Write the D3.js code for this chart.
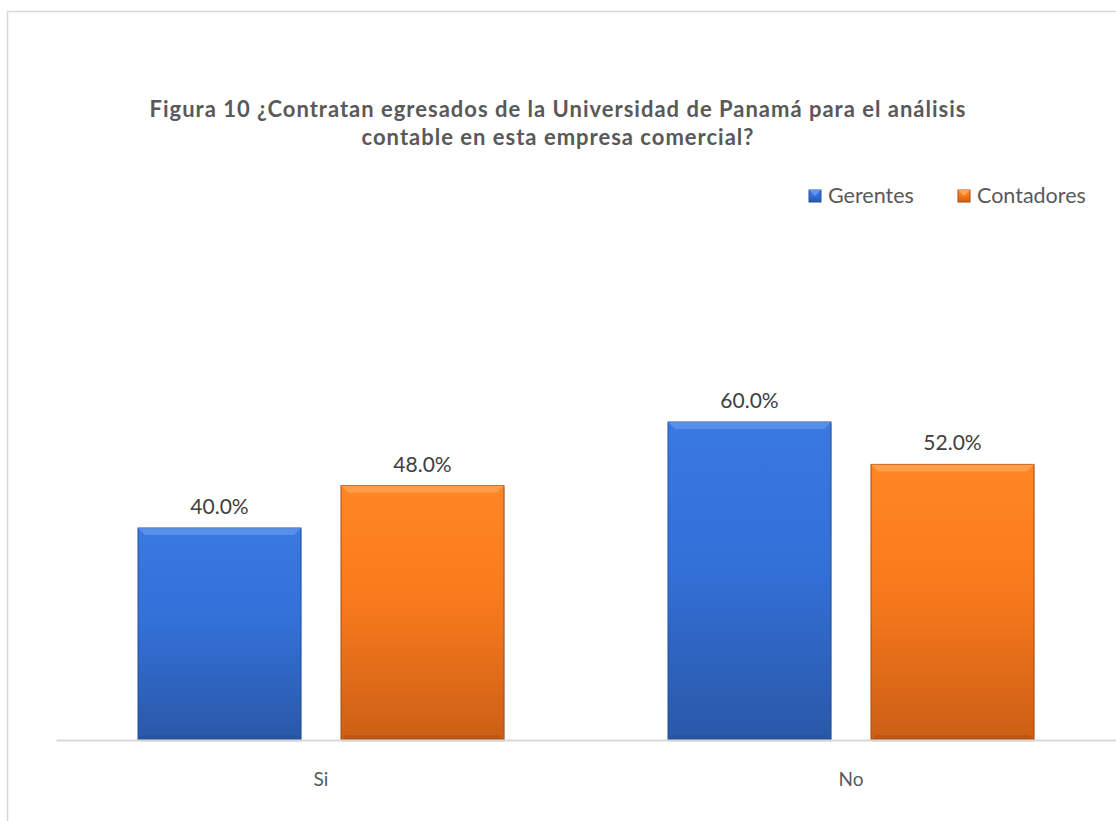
<!DOCTYPE html>
<html>
<head>
<meta charset="utf-8">
<script src="https://cdn.jsdelivr.net/npm/d3@7"></script>
<style>
  body { margin: 0; background: #fff; }
  text { font-family: Lato, "Noto Sans", sans-serif; }
</style>
</head>
<body>
<svg width="1116" height="821"></svg>
<script>
var categories = ['Si', 'No'];
var series = ['Gerentes', 'Contadores'];
var gerentes = [0.40, 0.60];
var contadores = [0.48, 0.52];
var titleLines = ['Figura 10 ¿Contratan egresados de la Universidad de Panamá para el análisis',
                  'contable en esta empresa comercial?'];

var svg = d3.select('svg');
var width = +svg.attr('width'),
    height = +svg.attr('height');

// chart frame (only left/top visible in the picture)
svg.append('path')
    .attr('d', 'M7.5,821 L7.5,11.5 L1116,11.5')
    .attr('fill', 'none')
    .attr('stroke', '#d9d9d9')
    .attr('stroke-width', 1.5);

var defs = svg.append('defs');
var colors = {
  Gerentes: {top: '#3a78e2', mid: '#3370d8', bot: '#2a58a8', edge: '#244f96', hi: '#5f95ec'},
  Contadores: {top: '#ff8624', mid: '#f97a1c', bot: '#cc5f16', edge: '#a84c12', hi: '#ffa352'}
};
series.forEach(function(s) {
  var g = defs.append('linearGradient').attr('id', 'grad-' + s)
      .attr('x1', 0).attr('y1', 0).attr('x2', 0).attr('y2', 1);
  g.append('stop').attr('offset', '0%').attr('stop-color', colors[s].top);
  g.append('stop').attr('offset', '45%').attr('stop-color', colors[s].mid);
  g.append('stop').attr('offset', '100%').attr('stop-color', colors[s].bot);
});

var x0 = d3.scaleBand()
    .domain(categories)
    .range([56, 1116]);
var x1 = d3.scaleBand()
    .domain(series)
    .range([0, x0.bandwidth()])
    .paddingInner(0.197)
    .paddingOuter(0.404);
var y = d3.scaleLinear()
    .domain([0, 0.7])
    .range([740, 369]);

// title
svg.append('g').selectAll('text')
    .data(titleLines).enter().append('text')
    .attr('x', 558)
    .attr('y', function(d, i) { return 117 + i * 28; })
    .attr('text-anchor', 'middle')
    .attr('font-size', 22)
    .attr('letter-spacing', 1)
    .attr('font-weight', 'bold')
    .attr('fill', '#595959')
    .text(function(d) { return d; });

var rows = categories.map(function(c, i) {
  return {cat: c, values: [{s: 'Gerentes', v: gerentes[i]}, {s: 'Contadores', v: contadores[i]}]};
});

var groups = svg.append('g').selectAll('g')
    .data(rows).enter().append('g')
    .attr('transform', function(d) { return 'translate(' + x0(d.cat) + ',0)'; });

var bars = groups.selectAll('g.bar')
    .data(function(d) { return d.values; }).enter().append('g')
    .attr('class', 'bar');

// shadow
bars.append('rect')
    .attr('x', function(d) { return x1(d.s) + 1; })
    .attr('y', function(d) { return y(d.v) + 2; })
    .attr('width', x1.bandwidth())
    .attr('height', function(d) { return y(0) - y(d.v); })
    .attr('fill', 'rgba(0,0,0,0.12)');

bars.append('rect')
    .attr('x', function(d) { return x1(d.s); })
    .attr('y', function(d) { return y(d.v); })
    .attr('width', x1.bandwidth())
    .attr('height', function(d) { return y(0) - y(d.v); })
    .attr('fill', function(d) { return 'url(#grad-' + d.s + ')'; })
    .attr('stroke', function(d) { return colors[d.s].edge; })
    .attr('stroke-width', 1);

// bevel highlight at top
bars.append('path')
    .attr('d', function(d) {
      var l = x1(d.s), r = l + x1.bandwidth(), t = y(d.v), b = 7;
      return 'M' + l + ',' + t + 'L' + r + ',' + t + 'L' + (r - b) + ',' + (t + b) + 'L' + (l + b) + ',' + (t + b) + 'Z';
    })
    .attr('fill', function(d) { return colors[d.s].hi; })
    .attr('opacity', 0.8);

// darker bevel at bottom
bars.append('path')
    .attr('d', function(d) {
      var l = x1(d.s), r = l + x1.bandwidth(), bt = y(0), b = 5;
      return 'M' + l + ',' + bt + 'L' + r + ',' + bt + 'L' + (r - b) + ',' + (bt - b) + 'L' + (l + b) + ',' + (bt - b) + 'Z';
    })
    .attr('fill', function(d) { return colors[d.s].edge; })
    .attr('opacity', 0.5);

// data labels
bars.append('text')
    .attr('x', function(d) { return x1(d.s) + x1.bandwidth() / 2; })
    .attr('y', function(d) { return y(d.v) - 14; })
    .attr('text-anchor', 'middle')
    .attr('font-size', 21)
    .attr('fill', '#404040')
    .text(function(d) { return d3.format('.1%')(d.v); });

// axis
var xAxis = d3.axisBottom(x0).tickSize(0).tickPadding(33);
var ax = svg.append('g')
    .attr('transform', 'translate(0,' + y(0) + ')')
    .call(xAxis);
ax.select('.domain').attr('stroke', '#d9d9d9').attr('stroke-width', 2);
ax.selectAll('text')
    .style('font-size', '19px')
    .attr('fill', '#595959')
    .style('font-family', 'Lato, "Noto Sans", sans-serif');

// legend
var legendX = [809, 958];
var legend = svg.append('g').selectAll('g')
    .data(series).enter().append('g')
    .attr('transform', function(d, i) { return 'translate(' + legendX[i] + ',190)'; });
legend.append('rect')
    .attr('width', 12).attr('height', 12)
    .attr('fill', function(d) { return 'url(#grad-' + d + ')'; })
    .attr('stroke', function(d) { return colors[d].edge; });
legend.append('path')
    .attr('d', 'M0,0L12,0L6,6Z')
    .attr('fill', function(d) { return colors[d].hi; });
legend.append('text')
    .attr('x', 19).attr('y', 13)
    .attr('font-size', 21.5)
    .attr('fill', '#595959')
    .text(function(d) { return d; });
</script>
</body>
</html>
